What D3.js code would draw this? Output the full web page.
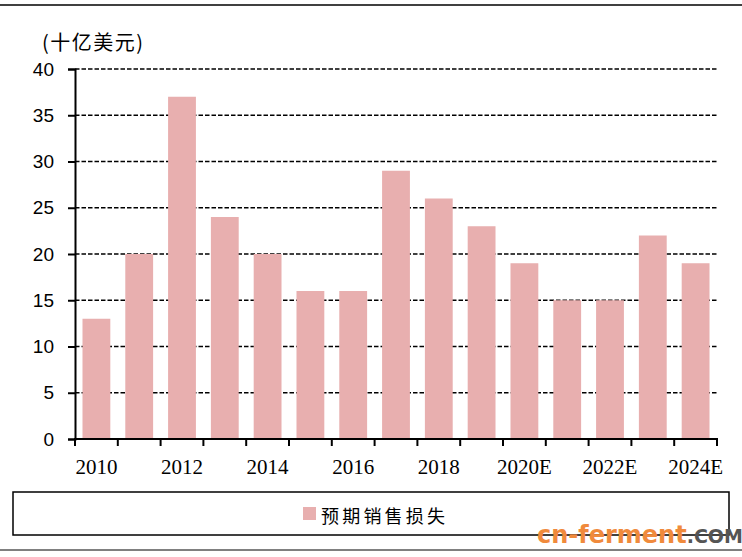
<!DOCTYPE html>
<html><head><meta charset="utf-8">
<script src="https://cdn.jsdelivr.net/npm/d3@7"></script>
<style>body{margin:0;background:#fff}</style>
</head><body>
<svg id="c" width="742" height="557"></svg>
<script>
const categories = ["2010","2011","2012","2013","2014","2015","2016","2017","2018","2019","2020E","2021E","2022E","2023E","2024E"];
const values = [13,20,37,24,20,16,16,29,26,23,19,15,15,22,19];
const yTicks = [0,5,10,15,20,25,30,35,40];
const xLabels = ["2010","2012","2014","2016","2018","2020E","2022E","2024E"];
const unitLabel = "(十亿美元)";
const seriesName = "预期销售损失";

(function(){
const svg = d3.select("#c");
const mL = 75, mR = 717, mT = 69, mB = 439;
const x = d3.scaleBand().domain(categories).range([mL, mR]).paddingInner(0.35).paddingOuter(0.175);
const xb = d3.scaleBand().domain(categories).range([mL, mR]);
const y = d3.scaleLinear().domain([0, 40]).range([mB, mT]);
const barColor = "#E8AFAF";

// frame lines
svg.append("line").attr("x1",0).attr("x2",742).attr("y1",5).attr("y2",5).attr("stroke","#000").attr("stroke-width",1.5);
svg.append("line").attr("x1",0).attr("x2",742).attr("y1",550).attr("y2",550).attr("stroke","#000").attr("stroke-width",1);

// gridlines
svg.append("g").selectAll("line").data(yTicks.filter(d=>d>0)).join("line")
  .attr("x1",mL).attr("x2",mR).attr("y1",d=>y(d)).attr("y2",d=>y(d))
  .attr("stroke","#000").attr("stroke-width",1.5).attr("stroke-dasharray","4.5,2");

// bars
svg.append("g").selectAll("rect").data(values).join("rect")
  .attr("x",(d,i)=>x(categories[i])).attr("width",x.bandwidth())
  .attr("y",d=>y(d)).attr("height",d=>y(0)-y(d)).attr("fill",barColor);

// y axis
const ya = svg.append("g").attr("transform",`translate(${mL},0)`)
  .call(d3.axisLeft(y).tickValues(yTicks).tickSize(7).tickPadding(14));
ya.select(".domain").attr("stroke","#000").attr("stroke-width",2);
ya.selectAll(".tick line").attr("stroke","#000").attr("stroke-width",2);
ya.selectAll("text").attr("font-family","Liberation Sans, Arial, sans-serif").attr("font-size",19).attr("fill","#000");

// x axis with ticks at band boundaries
const xa = svg.append("g").attr("transform",`translate(0,${mB})`);
xa.append("line").attr("x1",mL-1).attr("x2",mR+1).attr("stroke","#000").attr("stroke-width",2);
const bounds = categories.map(c=>xb(c)).concat([mR]);
xa.selectAll("line.t").data(bounds).join("line").attr("class","t")
  .attr("x1",d=>d).attr("x2",d=>d).attr("y1",0).attr("y2",7).attr("stroke","#000").attr("stroke-width",2);
xa.selectAll("text").data(xLabels).join("text")
  .attr("x",d=>xb(d)+xb.bandwidth()/2).attr("y",35).attr("text-anchor","middle")
  .attr("font-family","Liberation Serif, Times New Roman, serif").attr("font-size",21).attr("fill","#000")
  .text(d=>d);

// unit label
svg.append("text").attr("x",42).attr("y",50).attr("font-family","Noto Sans CJK SC, sans-serif")
  .attr("font-size",20).attr("letter-spacing",1.5).attr("fill","#000").text(unitLabel);

// legend
svg.append("rect").attr("x",13).attr("y",492).attr("width",716).attr("height",43)
  .attr("fill","none").attr("stroke","#000").attr("stroke-width",1.5);
svg.append("rect").attr("x",303).attr("y",507).attr("width",13).attr("height",13).attr("fill",barColor);
svg.append("text").attr("x",321).attr("y",523).attr("font-family","Noto Sans CJK SC, sans-serif")
  .attr("font-size",18).attr("letter-spacing",3.2).attr("fill","#000").text(seriesName);

// watermark
const wm = svg.append("text").attr("x",537).attr("y",543).attr("font-family","DejaVu Sans, sans-serif")
  .attr("font-weight","bold").attr("font-size",24);
wm.append("tspan").attr("fill","#F08A3C").text("cn-ferment");
wm.append("tspan").attr("fill","#555").attr("font-size",19).text(".COM");
})();
</script>
</body></html>
